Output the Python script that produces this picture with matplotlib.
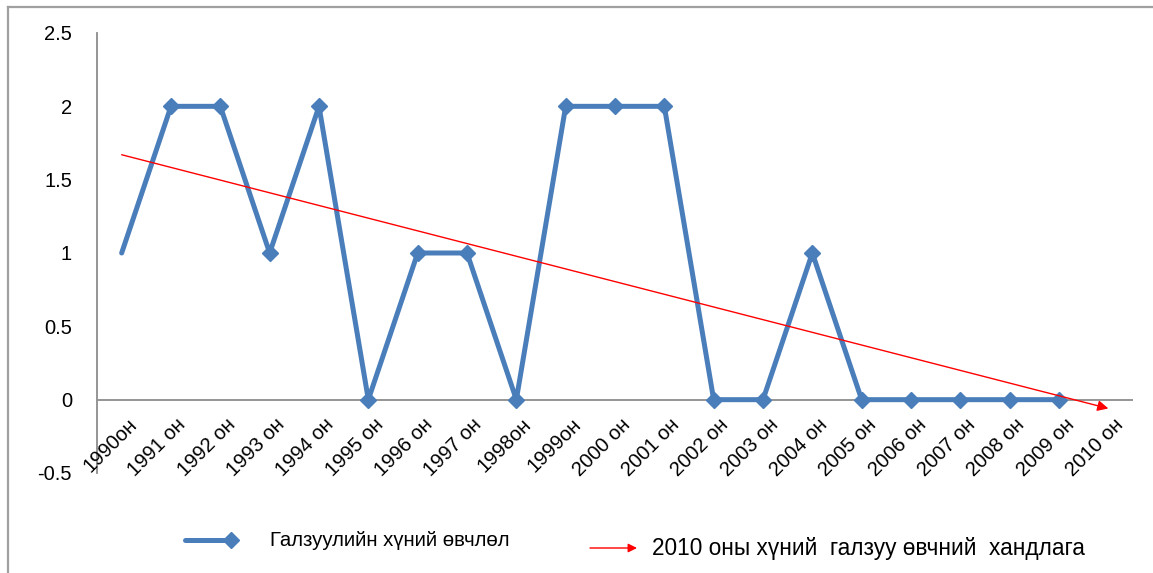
import matplotlib
matplotlib.use("Agg")
import matplotlib.pyplot as plt
from matplotlib.lines import Line2D
from matplotlib.patches import FancyArrowPatch
from matplotlib.transforms import ScaledTranslation

# Category labels (years) and yearly case counts
years = ["1990он", "1991 он", "1992 он", "1993 он", "1994 он", "1995 он",
         "1996 он", "1997 он", "1998он", "1999он", "2000 он", "2001 он",
         "2002 он", "2003 он", "2004 он", "2005 он", "2006 он", "2007 он",
         "2008 он", "2009 он", "2010 он"]
cases = [1, 2, 2, 1, 2, 0, 1, 1, 0, 2, 2, 2, 0, 0, 1, 0, 0, 0, 0, 0]

# Trend line end values at the first and last category
trend_x = [0, 20]
trend_y = [1.67, -0.06]

y_ticks = [-0.5, 0, 0.5, 1, 1.5, 2, 2.5]
y_tick_labels = ["-0.5", "0", "0.5", "1", "1.5", "2", "2.5"]

series_label = "Галзуулийн хүний өвчлөл"
trend_label = "2010 оны хүний  галзуу өвчний  хандлага"

base_font = "Liberation Sans"

blue = "#4A7EBB"
red = "#FF0000"
grey = "#8C8C8C"

fig = plt.figure(figsize=(11.53, 5.73), dpi=100)
ax = fig.add_axes([97 / 1153, 1 - 473 / 573, (1133 - 97) / 1153, (473 - 33) / 573])

ax.set_xlim(-0.5, len(years) - 0.5)
ax.set_ylim(-0.5, 2.5)

# Main series: no marker on the first point
xs = list(range(len(cases)))
ax.plot(xs, cases, color=blue, lw=3.6, solid_joinstyle="round",
        solid_capstyle="round", zorder=3)
ax.plot(xs[1:], cases[1:], ls="none", marker="D", ms=8.5, color=blue,
        zorder=4)

# Trend arrow
ax.annotate("", xy=(trend_x[1], trend_y[1]), xytext=(trend_x[0], trend_y[0]),
            arrowprops=dict(arrowstyle="-|>", color=red, lw=1.0,
                            mutation_scale=16, shrinkA=0, shrinkB=0),
            zorder=5)

# Axes styling
for side in ("top", "right", "bottom"):
    ax.spines[side].set_visible(False)
ax.spines["left"].set_color(grey)
ax.spines["left"].set_linewidth(1.3)
ax.axhline(0, color=grey, lw=1.3, zorder=1)

ax.set_yticks(y_ticks)
ax.set_yticklabels(y_tick_labels, fontsize=14.5, family=base_font)
ax.tick_params(axis="y", length=0, pad=18)
ax.set_xticks([])

# Rotated category labels hanging under the zero line
offset = ScaledTranslation(12 / 100, -22 / 100, fig.dpi_scale_trans)
for i, lab in enumerate(years):
    ax.text(i, 0, lab, rotation=45, rotation_mode="anchor", ha="right",
            va="center", fontsize=14.5, family=base_font,
            transform=ax.transData + offset)

# Legend drawn in figure pixel coordinates
def fx(px):
    return px / 1153

def fy(py):
    return 1 - py / 573

fig.add_artist(Line2D([fx(185), fx(230)], [fy(540), fy(540)], color=blue,
                      lw=3.6, solid_capstyle="round"))
fig.add_artist(Line2D([fx(231)], [fy(540)], color=blue, marker="D", ms=8.5,
                      ls="none"))
fig.text(fx(270), fy(540), series_label, fontsize=14.7, family=base_font,
         ha="left", va="center")

fig.add_artist(FancyArrowPatch(
    (fx(590), fy(548)), (fx(637), fy(548)), transform=fig.transFigure,
    arrowstyle="-|>", color=red, lw=1.0, mutation_scale=13,
    shrinkA=0, shrinkB=0))
fig.text(fx(652), fy(548), trend_label, fontsize=16.3, family=base_font,
         ha="left", va="center")

# Outer frame (top and left edges)
fig.add_artist(Line2D([fx(8), 1.0], [fy(7), fy(7)], color="#A0A0A0", lw=1.6))
fig.add_artist(Line2D([fx(8), fx(8)], [fy(7), 0.0], color="#A0A0A0", lw=1.6))

fig.savefig("out.png", dpi=100, facecolor="white")
